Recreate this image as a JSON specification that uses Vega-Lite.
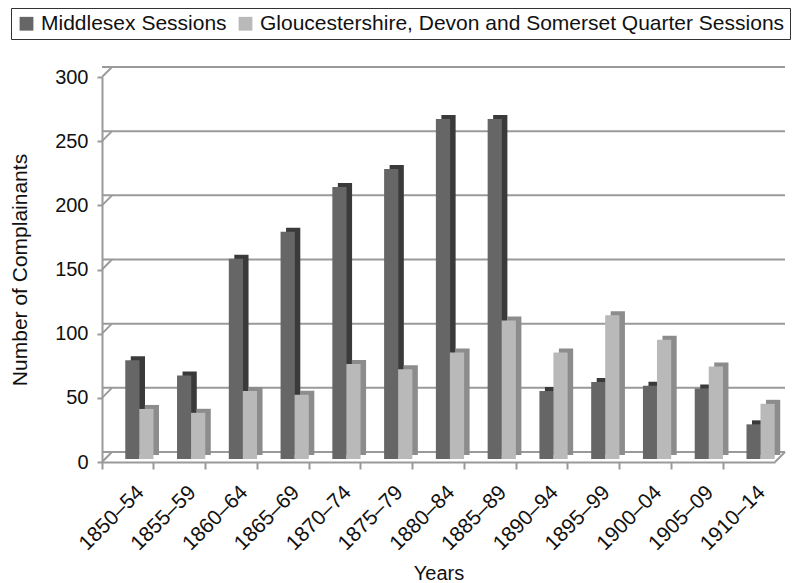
{
  "$schema": "https://vega.github.io/schema/vega-lite/v6.json",
  "width": 673,
  "height": 385,
  "autosize": {"type": "none"},
  "padding": {"left": 102, "top": 77, "right": 23, "bottom": 121},
  "background": "white",
  "config": {
    "view": {"stroke": null},
    "font": "Liberation Sans",
    "legend": {
      "orient": "none",
      "legendX": -91,
      "legendY": -69,
      "direction": "horizontal",
      "strokeColor": "#333333",
      "fillColor": "white",
      "padding": 5,
      "symbolType": "square",
      "symbolSize": 190,
      "symbolStrokeWidth": 0,
      "labelFontSize": 21,
      "labelLimit": 0,
      "labelColor": "#111111",
      "labelOffset": 4,
      "columnPadding": 8,
      "title": null
    }
  },
  "datasets": {
    "grid": [
      {"level": 0}, {"level": 50}, {"level": 100}, {"level": 150},
      {"level": 200}, {"level": 250}, {"level": 300}
    ],
    "complainants": [
      {"period": "1850–54", "series": "Middlesex Sessions", "value": 77},
      {"period": "1850–54", "series": "Gloucestershire, Devon and Somerset Quarter Sessions", "value": 39},
      {"period": "1855–59", "series": "Middlesex Sessions", "value": 65},
      {"period": "1855–59", "series": "Gloucestershire, Devon and Somerset Quarter Sessions", "value": 36},
      {"period": "1860–64", "series": "Middlesex Sessions", "value": 156},
      {"period": "1860–64", "series": "Gloucestershire, Devon and Somerset Quarter Sessions", "value": 53},
      {"period": "1865–69", "series": "Middlesex Sessions", "value": 177},
      {"period": "1865–69", "series": "Gloucestershire, Devon and Somerset Quarter Sessions", "value": 50},
      {"period": "1870–74", "series": "Middlesex Sessions", "value": 212},
      {"period": "1870–74", "series": "Gloucestershire, Devon and Somerset Quarter Sessions", "value": 74},
      {"period": "1875–79", "series": "Middlesex Sessions", "value": 226},
      {"period": "1875–79", "series": "Gloucestershire, Devon and Somerset Quarter Sessions", "value": 70},
      {"period": "1880–84", "series": "Middlesex Sessions", "value": 265},
      {"period": "1880–84", "series": "Gloucestershire, Devon and Somerset Quarter Sessions", "value": 83},
      {"period": "1885–89", "series": "Middlesex Sessions", "value": 265},
      {"period": "1885–89", "series": "Gloucestershire, Devon and Somerset Quarter Sessions", "value": 108},
      {"period": "1890–94", "series": "Middlesex Sessions", "value": 53},
      {"period": "1890–94", "series": "Gloucestershire, Devon and Somerset Quarter Sessions", "value": 83},
      {"period": "1895–99", "series": "Middlesex Sessions", "value": 60},
      {"period": "1895–99", "series": "Gloucestershire, Devon and Somerset Quarter Sessions", "value": 112},
      {"period": "1900–04", "series": "Middlesex Sessions", "value": 57},
      {"period": "1900–04", "series": "Gloucestershire, Devon and Somerset Quarter Sessions", "value": 93},
      {"period": "1905–09", "series": "Middlesex Sessions", "value": 55},
      {"period": "1905–09", "series": "Gloucestershire, Devon and Somerset Quarter Sessions", "value": 72},
      {"period": "1910–14", "series": "Middlesex Sessions", "value": 27},
      {"period": "1910–14", "series": "Gloucestershire, Devon and Somerset Quarter Sessions", "value": 43}
    ]
  },
  "layer": [
    {
      "description": "Back-wall gridlines, set back from the front axis for depth",
      "data": {"name": "grid"},
      "mark": {"type": "rule", "color": "#9a9a9a", "strokeWidth": 2, "xOffset": 10, "yOffset": -10},
      "encoding": {
        "y": {"field": "level", "type": "quantitative", "scale": {"domain": [0, 300], "nice": false}}
      }
    },
    {
      "description": "Short slanted links from the front axis to each back gridline",
      "data": {"name": "grid"},
      "mark": {"type": "rule", "color": "#9a9a9a", "strokeWidth": 2, "x2Offset": 10, "y2Offset": -10},
      "encoding": {
        "x": {"datum": "1850–54", "type": "nominal", "bandPosition": 0},
        "x2": {"datum": "1850–54", "bandPosition": 0},
        "y": {"field": "level", "type": "quantitative"},
        "y2": {"field": "level"}
      }
    },
    {
      "description": "Right-hand edge of the floor",
      "data": {"values": [{"level": 0}]},
      "mark": {"type": "rule", "color": "#9a9a9a", "strokeWidth": 2, "x2Offset": 10, "y2Offset": -10},
      "encoding": {
        "x": {"datum": "1910–14", "type": "nominal", "bandPosition": 1},
        "x2": {"datum": "1910–14", "bandPosition": 1},
        "y": {"field": "level", "type": "quantitative"},
        "y2": {"field": "level"}
      }
    },
    {
      "description": "Side and top faces, Middlesex",
      "data": {"name": "complainants"},
      "transform": [{"filter": "datum.series === 'Middlesex Sessions'"}],
      "mark": {"type": "bar", "width": {"band": 0.275}, "xOffset": 10, "yOffset": -7, "fill": "#3a3a3a"},
      "encoding": {
        "x": {"field": "period", "type": "nominal", "sort": null},
        "y": {"field": "value", "type": "quantitative"}
      }
    },
    {
      "description": "Side and top faces, Gloucestershire, Devon and Somerset",
      "data": {"name": "complainants"},
      "transform": [{"filter": "datum.series !== 'Middlesex Sessions'"}],
      "mark": {"type": "bar", "width": {"band": 0.275}, "xOffset": 24, "yOffset": -7, "fill": "#8c8c8c"},
      "encoding": {
        "x": {"field": "period", "type": "nominal", "sort": null},
        "y": {"field": "value", "type": "quantitative"}
      }
    },
    {
      "description": "Front faces, Middlesex",
      "data": {"name": "complainants"},
      "transform": [{"filter": "datum.series === 'Middlesex Sessions'"}],
      "mark": {"type": "bar", "width": {"band": 0.275}, "xOffset": 4.5, "yOffset": -3},
      "encoding": {
        "x": {"field": "period", "type": "nominal", "sort": null},
        "y": {"field": "value", "type": "quantitative"},
        "color": {"field": "series", "type": "nominal"}
      }
    },
    {
      "description": "Front faces, Gloucestershire, Devon and Somerset",
      "data": {"name": "complainants"},
      "transform": [{"filter": "datum.series !== 'Middlesex Sessions'"}],
      "mark": {"type": "bar", "width": {"band": 0.275}, "xOffset": 18.5, "yOffset": -3},
      "encoding": {
        "x": {
          "field": "period",
          "type": "nominal",
          "sort": null,
          "scale": {
            "domain": ["1850–54", "1855–59", "1860–64", "1865–69", "1870–74", "1875–79", "1880–84",
                       "1885–89", "1890–94", "1895–99", "1900–04", "1905–09", "1910–14"],
            "paddingInner": 0,
            "paddingOuter": 0
          },
          "axis": {
            "title": "Years",
            "titleFontSize": 20,
            "titleFontWeight": "normal",
            "titleColor": "#111111",
            "titlePadding": 10,
            "labelAngle": -45,
            "labelFontSize": 21,
            "labelColor": "#111111",
            "labelPadding": 20,
            "labelOffset": 13,
            "bandPosition": 0,
            "tickSize": 7,
            "tickColor": "#9a9a9a",
            "tickWidth": 2,
            "domainColor": "#9a9a9a",
            "domainWidth": 2
          }
        },
        "y": {
          "field": "value",
          "type": "quantitative",
          "axis": {
            "title": "Number of Complainants",
            "titleFontSize": 21,
            "titleFontWeight": "normal",
            "titleColor": "#111111",
            "titlePadding": 24,
            "values": [0, 50, 100, 150, 200, 250, 300],
            "labelFontSize": 20,
            "labelColor": "#111111",
            "labelPadding": 9,
            "tickSize": 5,
            "tickColor": "#9a9a9a",
            "tickWidth": 2,
            "domainColor": "#9a9a9a",
            "domainWidth": 2,
            "grid": false
          }
        },
        "color": {
          "field": "series",
          "type": "nominal",
          "sort": null,
          "scale": {
            "domain": ["Middlesex Sessions", "Gloucestershire, Devon and Somerset Quarter Sessions"],
            "range": ["#666666", "#b9b9b9"]
          }
        }
      }
    }
  ]
}
